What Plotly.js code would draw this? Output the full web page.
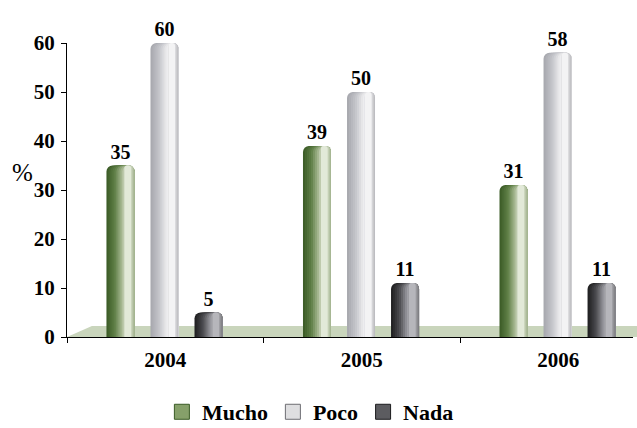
<!DOCTYPE html>
<html><head><meta charset="utf-8">
<script src="https://cdn.plot.ly/plotly-3.0.1.min.js"></script>
<style>html,body{margin:0;padding:0;background:#fff}#chart{width:637px;height:428px}</style>
</head><body><div id="chart"></div>
<script>
const categories = ['2004', '2005', '2006'];
const seriesNames = ['Mucho', 'Poco', 'Nada'];
const muchoValues = [35, 39, 31];
const pocoValues = [60, 50, 58];
const nadaValues = [5, 11, 11];
const seriesValues = [muchoValues, pocoValues, nadaValues];

// cylinder shading (left -> right) per series
const gradients = [
  [[0, '#3a5a25'], [0.3, '#5f7f47'], [0.55, '#a8b993'], [0.72, '#e6ecdd'], [0.86, '#d9e1cd'], [1, '#9fb08a']],
  [[0, '#a6a7ad'], [0.3, '#c3c4c9'], [0.55, '#e8e8ea'], [0.72, '#f9f9f9'], [0.86, '#e4e4e6'], [1, '#b6b7bb']],
  [[0, '#1c1c1e'], [0.3, '#4b4b4f'], [0.58, '#9a9aa0'], [0.74, '#b9b9be'], [0.88, '#a3a3a7'], [1, '#78787c']]
];
const legendColors = ['#86a06a', '#dedee0', '#5c5c60'];
const legendLines = ['#3a5a25', '#6d6d72', '#1c1c1e'];

function hex2rgb(h) { return [1, 3, 5].map(i => parseInt(h.substr(i, 2), 16)); }
function gradAt(stops, p) {
  for (let i = 1; i < stops.length; i++) {
    if (p <= stops[i][0]) {
      const t = (p - stops[i - 1][0]) / (stops[i][0] - stops[i - 1][0]);
      const c0 = hex2rgb(stops[i - 1][1]), c1 = hex2rgb(stops[i][1]);
      const c = c0.map((v, k) => Math.round(v + (c1[k] - v) * t));
      return 'rgb(' + c.join(',') + ')';
    }
  }
  return stops[stops.length - 1][1];
}

const FAMILY = '"Liberation Serif", "Times New Roman", Times, serif';
const W = 0.1425;          // bar width (category units)
const SP = 0.224;          // spacing between bars in a group
const NL = 9, NR = 4, H = 0.64, HR = 0.84;
const traces = [];
const labelFont = {family: FAMILY, size: 20, color: '#000', weight: 'bold'};

seriesValues.forEach((vals, k) => {
  const d = (k - 1) * SP - 0.004;
  const layers = [];
  for (let i = 0; i < NL; i++) {
    const a = H * i / NL;
    layers.push({a: a, b: 1, p: a + H / NL / 2});
  }
  for (let m = 0; m < NR; m++) {
    const b = 1 - (1 - HR) * m / NR;
    const p = (m < NR - 1) ? b - (1 - HR) / NR / 2 : (H + b) / 2;
    layers.push({a: H, b: b, p: p});
  }
  layers.forEach((L, j) => {
    const tr = {
      type: 'bar', x: categories, y: vals, name: seriesNames[k],
      offset: d - W / 2 + L.a * W, width: (L.b - L.a) * W,
      marker: {color: gradAt(gradients[k], L.p), line: {width: 0}, cornerradius: 6},
      showlegend: false, hoverinfo: 'skip', cliponaxis: false
    };
    if (j === 0) {
      tr.text = vals.map(String);
      tr.textposition = 'outside';
      tr.textfont = labelFont;
      tr.constraintext = 'none';
    } else {
      tr.textposition = 'none';
    }
    traces.push(tr);
  });
});

seriesNames.forEach((n, k) => {
  traces.push({
    type: 'scatter', mode: 'markers', x: [null], y: [null], name: n,
    marker: {symbol: 'square', size: 15, color: legendColors[k], line: {color: legendLines[k], width: 1}},
    showlegend: true, hoverinfo: 'skip'
  });
});

const tickFont = {family: FAMILY, size: 21, color: '#000', weight: 'bold'};
const layout = {
  width: 637, height: 428,
  margin: {l: 67, r: 4, t: 43, b: 91, autoexpand: false},
  paper_bgcolor: '#fff', plot_bgcolor: 'rgba(0,0,0,0)',
  barmode: 'overlay',
  showlegend: true,
  font: {family: FAMILY, color: '#000'},
  xaxis: {
    type: 'category', range: [-0.5, 2.38], tickson: 'boundaries',
    ticks: 'outside', ticklen: 5, tickcolor: '#000', showline: true, linecolor: '#000', linewidth: 1,
    showgrid: false, zeroline: false, tickfont: tickFont, ticklabelstandoff: 4, fixedrange: true
  },
  yaxis: {
    range: [0, 60], dtick: 10, tick0: 0,
    ticks: 'outside', ticklen: 5, tickcolor: '#000', showline: true, linecolor: '#000', linewidth: 1,
    showgrid: false, zeroline: false, tickfont: tickFont, ticklabelstandoff: 2, fixedrange: true
  },
  legend: {
    orientation: 'h', x: 0.43, xanchor: 'center', y: -0.255, yanchor: 'middle',
    font: {family: FAMILY, size: 22, color: '#000', weight: 'bold'},
    itemwidth: 30, bgcolor: 'rgba(0,0,0,0)', tracegroupgap: 0
  },
  shapes: [{
    type: 'path', xref: 'paper', yref: 'paper', layer: 'below',
    path: 'M 0,0 L 0.044,0.037 L 1.03,0.037 L 1.03,0 Z',
    fillcolor: '#c9d5bc', line: {width: 0}
  }],
  annotations: [{
    xref: 'paper', yref: 'paper', x: -0.0795, y: 0.561, xanchor: 'center', yanchor: 'middle',
    text: '%', showarrow: false, font: {family: FAMILY, size: 25, color: '#000'}
  }]
};

Plotly.newPlot('chart', traces, layout, {displayModeBar: false, staticPlot: true});
</script>
</body></html>
